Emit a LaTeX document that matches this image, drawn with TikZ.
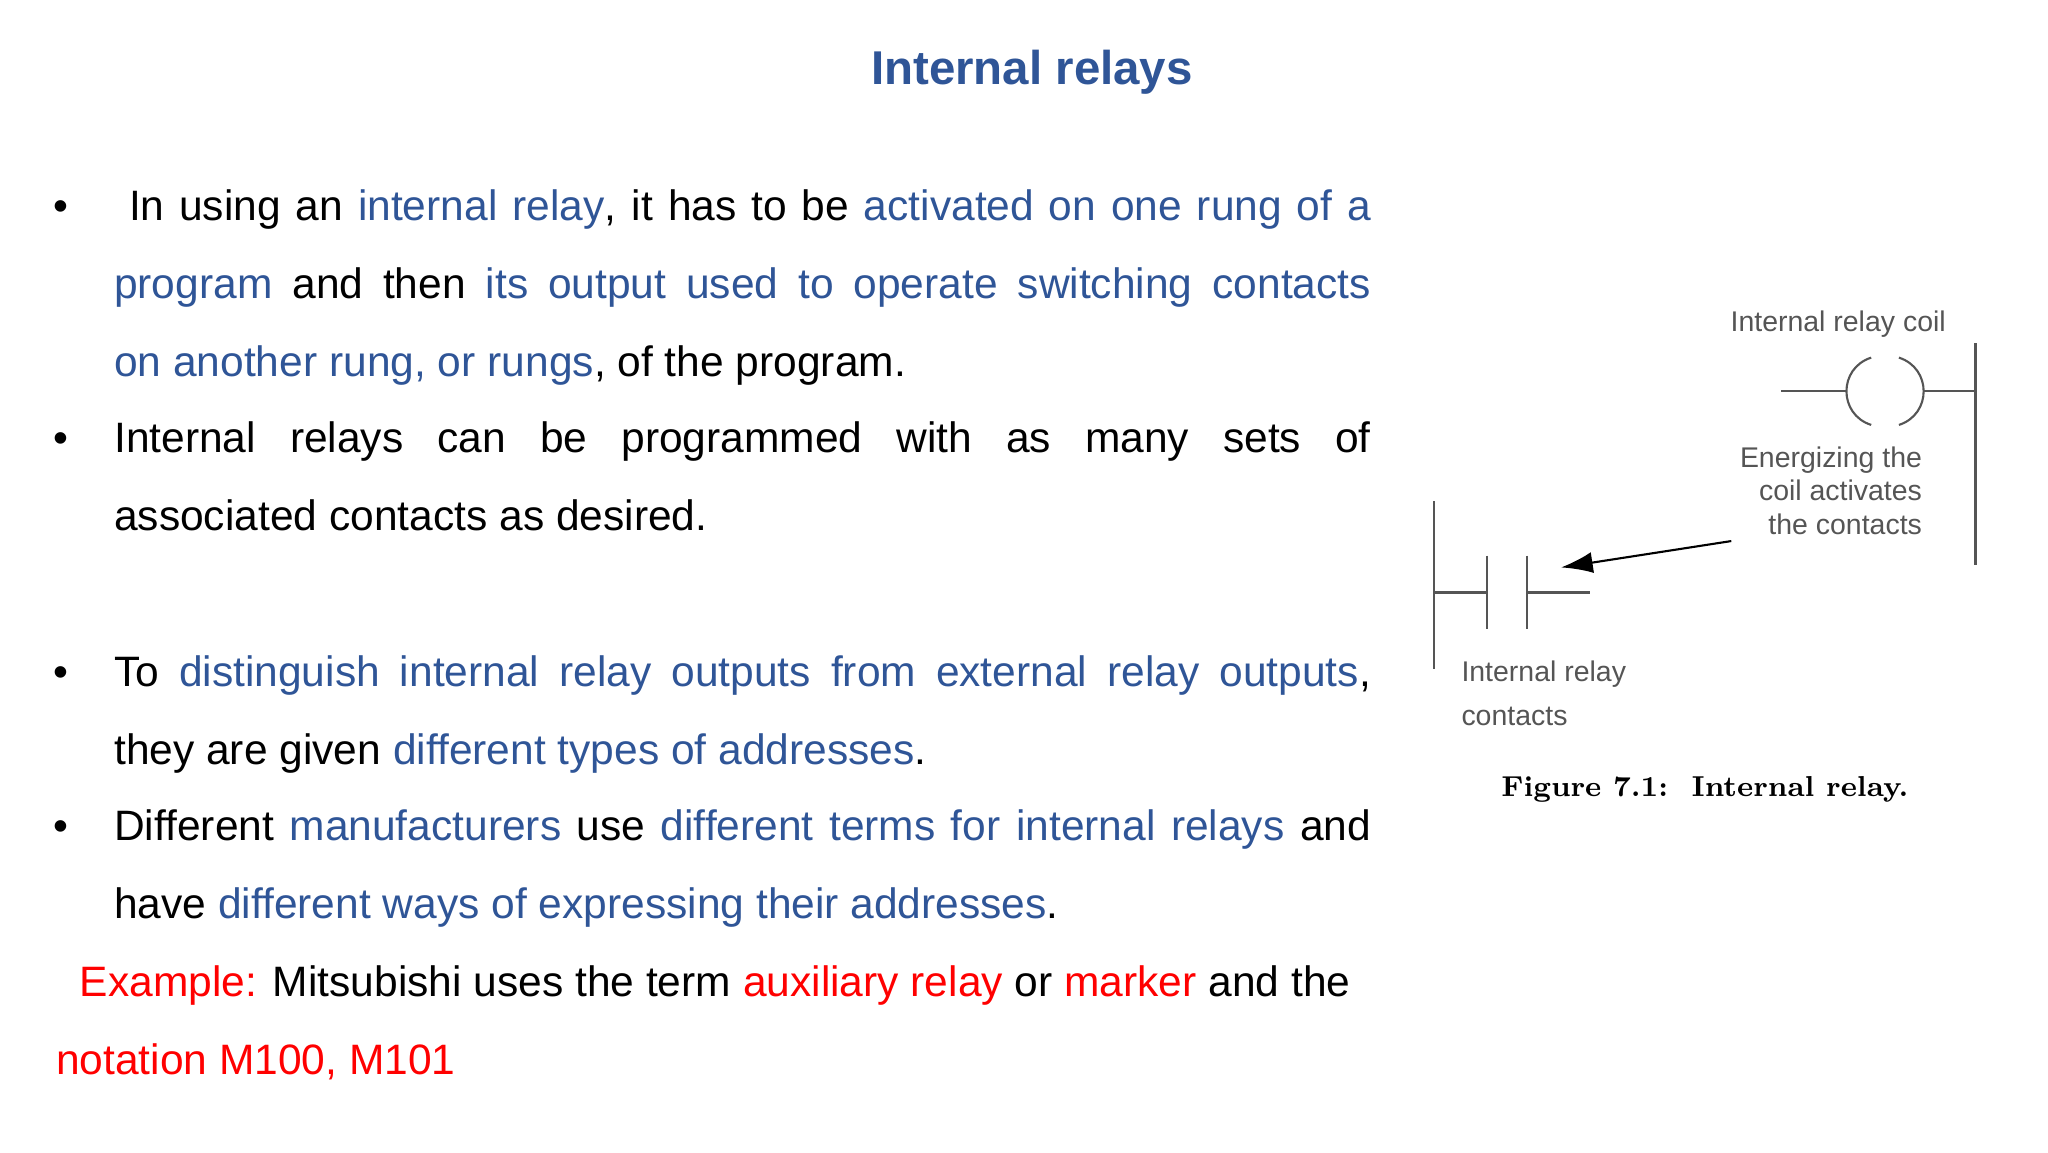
\documentclass[tikz,border=0pt]{standalone}
\usepackage{fontspec}
\setmainfont{Liberation Sans}
\newfontfamily\capfont{Latin Modern Roman}
\usetikzlibrary{arrows.meta}
\definecolor{tblue}{HTML}{2F5597}
\definecolor{tred}{HTML}{FF0000}
\definecolor{lgray}{HTML}{555555}
\newcommand{\bl}[1]{\textcolor{tblue}{#1}}
\newcommand{\rd}[1]{\textcolor{tred}{#1}}
\newcommand{\jl}[1]{\makebox[12.57cm][s]{#1}}
\tikzset{
  body/.style={anchor=base west,inner sep=0pt,font=\fontsize{12.1}{14}\selectfont},
  small/.style={inner sep=0pt,font=\fontsize{8.1}{9.5}\selectfont,text=lgray},
  wire/.style={draw=lgray,line width=0.6pt}
}
\begin{document}
\begin{tikzpicture}[x=0.0132cm,y=-0.0132cm]
\path[use as bounding box] (0,0) rectangle (1552,873);
\node[font=\fontsize{13.5}{16}\selectfont\bfseries,text=tblue] (title) at (782,55) {Internal relays};
% bullets
\foreach \yy/\nm in {167/b1,343/b2,520/b3,637/b4}{\node[body] (\nm) at (40,\yy) {•};}
\node[body] (l1) at (86,167) {\jl{\ In using an \bl{internal relay}, it has to be \bl{activated on one rung of a}}};
\node[body] (l2) at (86,226) {\jl{\bl{program} and then \bl{its output used to operate switching contacts}}};
\node[body] (l3) at (86,285) {\bl{on another rung, or rungs}, of the program.};
\node[body] (l4) at (86,343) {\jl{Internal relays can be programmed with as many sets of}};
\node[body] (l5) at (86,402) {associated contacts as desired.};
\node[body] (l6) at (86,520) {\jl{To \bl{distinguish internal relay outputs from external relay outputs},}};
\node[body] (l7) at (86,579) {they are given \bl{different types of addresses}.};
\node[body] (l8) at (86,637) {\jl{Different \bl{manufacturers} use \bl{different terms for internal relays} and}};
\node[body] (l9) at (86,696) {have \bl{different ways of expressing their addresses}.};
\node[body] (l10) at (60,755) {\rd{Example:} Mitsubishi uses the term \rd{auxiliary relay} or \rd{marker} and the};
\node[body] (l11) at (42,814) {\rd{notation M100, M101}};
% figure
\coordinate (rr1) at (1497,260); \coordinate (rr2) at (1497,428);
\draw[wire] (rr1) -- (rr2);
\coordinate (c0) at (1350,296); \coordinate (c1) at (1400,296);
\coordinate (c2) at (1457,296); \coordinate (c3) at (1497,296);
\draw[wire] (c0) -- (c1);
\draw[wire] (1418,271) .. controls (1393,279) and (1393,314) .. (1418,322);
\draw[wire] (1439,271) .. controls (1464,279) and (1464,314) .. (1439,322);
\draw[wire] (c2) -- (c3);
\coordinate (lr1) at (1087,380); \coordinate (lr2) at (1087,507);
\draw[wire] (lr1) -- (lr2);
\coordinate (k0) at (1087,449); \coordinate (k1) at (1127,449);
\coordinate (k2) at (1157,449); \coordinate (k3) at (1205,449);
\draw[wire] (k0) -- (k1) (k2) -- (k3);
\draw[wire] (1127,421) -- (1127,477) (1157,421) -- (1157,477);
\node[small] (coil) at (1393,246) {Internal relay coil};
\node[small,align=right,anchor=north east] (en) at (1457,338) {Energizing the\\[0pt]coil activates\\[0pt]the contacts};
\coordinate (atip) at (1183,430);
\draw[wire,-{Latex[length=9pt,width=6pt]},black] (1312,410) -- (atip);
\node[small,align=left,anchor=north west] (ct) at (1107,500) {Internal relay\\[3pt]contacts};
\node[inner sep=0pt,font=\capfont\fontsize{8.2}{10}\selectfont\bfseries] (cap) at (1292,598) {Figure 7.1:\ \ Internal relay.};
\end{tikzpicture}
\end{document}
